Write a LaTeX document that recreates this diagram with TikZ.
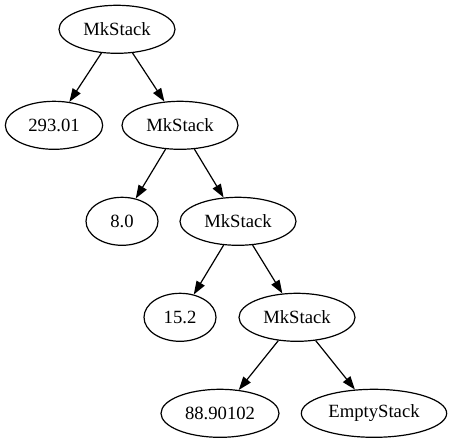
\documentclass[tikz,border=0pt]{standalone}
\usepackage{fontspec}
\setmainfont{Liberation Serif}
\usetikzlibrary{shapes.geometric,arrows.meta}
\begin{document}
\begin{tikzpicture}[x=0.75pt,y=-0.75pt,
  nd/.style={draw,ellipse,inner sep=0pt,minimum height=36pt,line width=0.9pt,font=\fontsize{14}{16}\selectfont},
  mk/.style={nd,minimum width=87pt},
  ed/.style={line width=0.9pt,-{Triangle[length=10pt,width=7pt]}}]
\useasboundingbox (0,0) rectangle (452,443);
\node[mk] (m1) at (117,29.3) {MkStack};
\node[nd,minimum width=73pt] (v1) at (54,125.3) {293.01};
\node[mk] (m2) at (180,125.3) {MkStack};
\node[nd,minimum width=54pt] (v2) at (122,221.3) {8.0};
\node[mk] (m3) at (238,221.3) {MkStack};
\node[nd,minimum width=54pt] (v3) at (180,317.3) {15.2};
\node[mk] (m4) at (297,317.3) {MkStack};
\node[nd,minimum width=88.5pt] (v4) at (220,413.3) {88.90102};
\node[nd,minimum width=109pt] (es) at (374,413.3) {EmptyStack};
\draw[ed] (m1) -- (v1);
\draw[ed] (m1) -- (m2);
\draw[ed] (m2) -- (v2);
\draw[ed] (m2) -- (m3);
\draw[ed] (m3) -- (v3);
\draw[ed] (m3) -- (m4);
\draw[ed] (m4) -- (v4);
\draw[ed] (m4) -- (es);
\end{tikzpicture}
\end{document}
